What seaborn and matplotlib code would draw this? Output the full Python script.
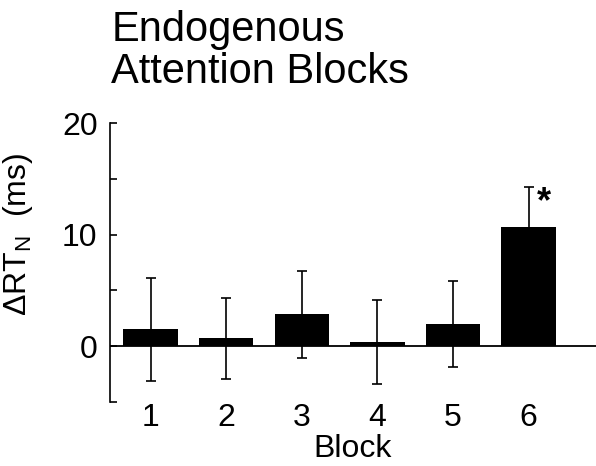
import seaborn as sns
import matplotlib.pyplot as plt
import pandas as pd
import numpy as np

blocks = ["1", "2", "3", "4", "5", "6"]
delta_rt = [1.5, 0.7, 2.85, 0.35, 1.97, 10.65]
sem = [4.6, 3.6, 3.9, 3.75, 3.85, 3.65]
star_block = 5

sns.set_style("white")
plt.rcParams["font.family"] = ["Liberation Sans", "DejaVu Sans"]
plt.rcParams["mathtext.fontset"] = "custom"
plt.rcParams["mathtext.rm"] = "Liberation Sans"
plt.rcParams["mathtext.it"] = "Liberation Sans"
for k in ["text.color", "axes.labelcolor", "xtick.color", "ytick.color"]:
    plt.rcParams[k] = "black"

df = pd.DataFrame({"Block": blocks, "dRT": delta_rt})

fig = plt.figure(figsize=(5.96, 4.66), dpi=100)
ax = fig.add_axes([0.1846, 0.1373, 0.8154, 0.5987])

ax.axhline(0, color="black", lw=1.3, zorder=0.5)
sns.barplot(data=df, x="Block", y="dRT", color="black", saturation=1,
            width=0.72, errorbar=None, edgecolor="black", linewidth=0, ax=ax)
ax.errorbar(np.arange(len(blocks)), delta_rt, yerr=sem, fmt="none",
            ecolor="black", elinewidth=1.2, capsize=3.5, capthick=1.2)

ax.text(star_block + 0.2, delta_rt[star_block] + sem[star_block] - 1.4, "*",
        fontsize=26, ha="center", va="center", fontweight="bold")

ax.set_xlim(-0.537, 5.89)
ax.set_ylim(-5, 20)
ax.set_yticks([0, 10, 20])
ax.set_yticks([-5, 5, 15], minor=True)
ax.tick_params(axis="y", which="both", direction="in", length=5, width=1.2,
               left=True, labelsize=23, pad=9)
ax.tick_params(axis="x", length=0, labelsize=23, pad=1)

for s in ["top", "right", "bottom"]:
    ax.spines[s].set_visible(False)
ax.spines["left"].set_linewidth(1.2)
ax.spines["left"].set_color("black")

ax.set_xlabel("Block", fontsize=23, labelpad=0.5)
ax.set_ylabel(r"$\Delta$RT$_\mathrm{N}$  (ms)", fontsize=23)
ax.yaxis.set_label_coords(-0.155, 0.6)

fig.text(0.187, 0.978, "Endogenous\nAttention Blocks", fontsize=30,
         ha="left", va="top", linespacing=1.05)

fig.savefig("out.png", dpi=100)
